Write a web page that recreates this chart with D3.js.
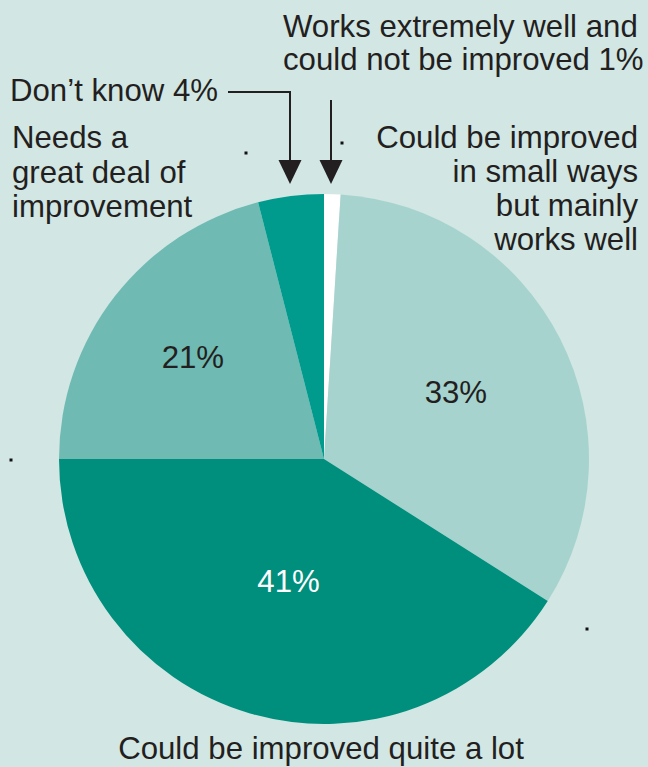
<!DOCTYPE html>
<html>
<head>
<meta charset="utf-8">
<script src="https://cdn.jsdelivr.net/npm/d3@7"></script>
<style>
  html, body { margin: 0; padding: 0; background: #d2e6e4; }
  svg { display: block; }
  text { font-family: "Liberation Sans", Arial, sans-serif; fill: #231f20; }
</style>
</head>
<body>
<script>
// ---- data ----
const categories = [
  "Works extremely well and could not be improved",
  "Could be improved in small ways but mainly works well",
  "Could be improved quite a lot",
  "Needs a great deal of improvement",
  "Don\u2019t know"
];
const values = [1, 33, 41, 21, 4];
const percentLabels = ["", "33%", "41%", "21%", ""];

// ---- styles / layout ----
const colors = ["#ffffff", "#a6d3ce", "#008e7d", "#6fbab3", "#009b8c"];
const labelColors = ["#231f20", "#231f20", "#ffffff", "#231f20", "#231f20"];
const labelRadii = [0, 148, 127, 166, 0];

const W = 648, H = 767;
const cx = 324, cy = 459, R = 265;
const fs = 31.2;

const svg = d3.select("body").append("svg")
  .attr("width", W).attr("height", H);

svg.append("rect").attr("width", W).attr("height", H).attr("fill", "#d2e6e4");

const pie = d3.pie().sort(null).value(d => d)
  .startAngle(0).endAngle(2 * Math.PI);
const arcs = pie(values);
const arc = d3.arc().innerRadius(0).outerRadius(R);

const g = svg.append("g").attr("transform", `translate(${cx},${cy})`);
g.selectAll("path.slice").data(arcs).enter().append("path")
  .attr("class", "slice")
  .attr("d", arc)
  .attr("fill", (d, i) => colors[i]);

g.selectAll("text.pct").data(arcs).enter().append("text")
  .attr("class", "pct")
  .attr("transform", (d, i) => {
    const a = (d.startAngle + d.endAngle) / 2;
    const r = labelRadii[i];
    return `translate(${r * Math.sin(a)},${-r * Math.cos(a) + 11})`;
  })
  .attr("text-anchor", "middle")
  .style("font-size", fs + "px")
  .style("fill", (d, i) => labelColors[i])
  .text((d, i) => percentLabels[i]);

// ---- outer labels ----
function block(lines, x, y0, anchor, lead) {
  const t = svg.append("text")
    .attr("text-anchor", anchor)
    .style("font-size", fs + "px");
  lines.forEach((l, i) => {
    t.append("tspan").attr("x", x).attr("y", y0 + i * lead).text(l);
  });
}

block(["Works extremely well and", "could not be improved " + values[0] + "%"], 283, 37, "start", 33);
block([categories[4] + " " + values[4] + "%"], 10, 101, "start", 33);
block(["Needs a", "great deal of", "improvement"], 12, 148, "start", 34.5);
block(["Could be improved", "in small ways", "but mainly", "works well"], 638, 148, "end", 34);
block([categories[2]], 321, 759, "middle", 33);

// ---- arrows ----
const ink = "#231f20";
// Don't know arrow
svg.append("path")
  .attr("d", "M228,92 H290 V162")
  .attr("fill", "none").attr("stroke", ink).attr("stroke-width", 2);
svg.append("path")
  .attr("d", "M278.5,160 L301.5,160 L290,184 Z")
  .attr("fill", ink);
// Works extremely well arrow
svg.append("path")
  .attr("d", "M331,100 V162")
  .attr("fill", "none").attr("stroke", ink).attr("stroke-width", 2);
svg.append("path")
  .attr("d", "M319.5,160 L342.5,160 L331,184 Z")
  .attr("fill", ink);

// small stray marks
const marks = [[246, 153], [342, 143], [11, 460], [587, 629]];
svg.selectAll("rect.mark").data(marks).enter().append("rect")
  .attr("class", "mark")
  .attr("x", d => d[0] - 1.5).attr("y", d => d[1] - 1.5)
  .attr("width", 3).attr("height", 3)
  .attr("fill", "#111");
</script>
</body>
</html>
